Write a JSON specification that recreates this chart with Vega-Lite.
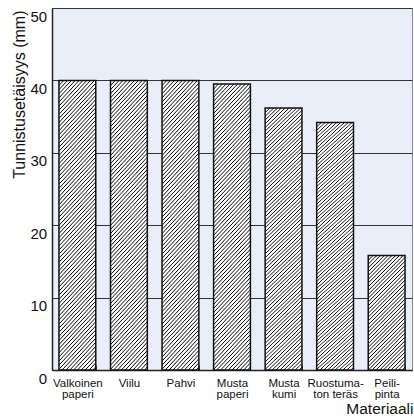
{
  "$schema": "https://vega.github.io/schema/vega-lite/v6.json",
  "width": 360,
  "height": 362,
  "autosize": {"type": "none"},
  "padding": {"left": 52, "top": 8, "right": 2, "bottom": 48},
  "background": "white",
  "config": {
    "font": "Liberation Sans",
    "view": {"fill": "#e9eef8", "stroke": "#8a8a8a", "strokeWidth": 1},
    "axis": {"labelColor": "#111", "titleColor": "#111", "titleFontWeight": "normal"}
  },
  "data": {
    "values": [
      {"material": "Valkoinen paperi", "distance": 40},
      {"material": "Viilu", "distance": 40},
      {"material": "Pahvi", "distance": 40},
      {"material": "Musta paperi", "distance": 39.5},
      {"material": "Musta kumi", "distance": 36.2},
      {"material": "Ruostumaton teräs", "distance": 34.2},
      {"material": "Peilipinta", "distance": 15.8}
    ]
  },
  "mark": {"type": "bar", "stroke": "#111", "strokeWidth": 1.5},
  "encoding": {
    "x": {
      "field": "material", "type": "nominal", "sort": null,
      "scale": {"paddingInner": 0.286, "paddingOuter": 0.135},
      "axis": {
        "title": "Materiaali", "titleFontSize": 15.5, "titleFontWeight": "normal",
        "titleX": 361, "titleY": 43, "titleAlign": "right", "titleBaseline": "alphabetic",
        "labelAngle": 0, "labelFontSize": 11.5, "labelLineHeight": 11, "labelPadding": 12.5, "labelBaseline": "top",
        "labelExpr": "!isValid(datum.value) ? '' : datum.value == 'Ruostumaton teräs' ? ['Ruostuma-', 'ton teräs'] : datum.value == 'Peilipinta' ? ['Peili-', 'pinta'] : split(datum.value, ' ')",
        "tickBand": "extent", "tickSize": -5, "tickColor": "#444", "tickWidth": 1,
        "domainColor": "#222", "domainWidth": 1.5, "grid": false
      }
    },
    "y": {
      "field": "distance", "type": "quantitative",
      "scale": {"domain": [0, 50], "nice": false},
      "axis": {
        "title": "Tunnistusetäisyys (mm)", "titleFontSize": 16, "titleFontWeight": "normal",
        "titleX": -28, "titleY": 2, "titleAlign": "right", "titleBaseline": "alphabetic", "titleAngle": -90,
        "values": [0, 10, 20, 30, 40, 50], "ticks": false, "tickSize": 0,
        "labelFontSize": 15, "labelBaseline": "top", "labelPadding": 5.3, "labelFlush": false, "labelOffset": 1,
        "grid": true, "gridColor": "#333", "gridWidth": 1, "gridOpacity": 1,
        "domainColor": "#222", "domainWidth": 1.5
      }
    },
    "fill": {
      "condition": {
        "test": "datum.distance < 25",
        "value": {"gradient": "linear", "x1": 0, "y1": 0, "x2": 0.3875, "y2": 1.1981, "stops": [
          {"offset":0,"color":"#fff"},{"offset":0.0064,"color":"#000"},{"offset":0.0128,"color":"#fff"},
          {"offset":0.025,"color":"#fff"},{"offset":0.0314,"color":"#000"},{"offset":0.0378,"color":"#fff"},
          {"offset":0.05,"color":"#fff"},{"offset":0.0564,"color":"#000"},{"offset":0.0628,"color":"#fff"},
          {"offset":0.075,"color":"#fff"},{"offset":0.0814,"color":"#000"},{"offset":0.0878,"color":"#fff"},
          {"offset":0.1,"color":"#fff"},{"offset":0.1064,"color":"#000"},{"offset":0.1128,"color":"#fff"},
          {"offset":0.125,"color":"#fff"},{"offset":0.1314,"color":"#000"},{"offset":0.1378,"color":"#fff"},
          {"offset":0.15,"color":"#fff"},{"offset":0.1564,"color":"#000"},{"offset":0.1628,"color":"#fff"},
          {"offset":0.175,"color":"#fff"},{"offset":0.1814,"color":"#000"},{"offset":0.1878,"color":"#fff"},
          {"offset":0.2,"color":"#fff"},{"offset":0.2064,"color":"#000"},{"offset":0.2128,"color":"#fff"},
          {"offset":0.225,"color":"#fff"},{"offset":0.2314,"color":"#000"},{"offset":0.2378,"color":"#fff"},
          {"offset":0.25,"color":"#fff"},{"offset":0.2564,"color":"#000"},{"offset":0.2628,"color":"#fff"},
          {"offset":0.275,"color":"#fff"},{"offset":0.2814,"color":"#000"},{"offset":0.2878,"color":"#fff"},
          {"offset":0.3,"color":"#fff"},{"offset":0.3064,"color":"#000"},{"offset":0.3128,"color":"#fff"},
          {"offset":0.325,"color":"#fff"},{"offset":0.3314,"color":"#000"},{"offset":0.3378,"color":"#fff"},
          {"offset":0.35,"color":"#fff"},{"offset":0.3564,"color":"#000"},{"offset":0.3628,"color":"#fff"},
          {"offset":0.375,"color":"#fff"},{"offset":0.3814,"color":"#000"},{"offset":0.3878,"color":"#fff"},
          {"offset":0.4,"color":"#fff"},{"offset":0.4064,"color":"#000"},{"offset":0.4128,"color":"#fff"},
          {"offset":0.425,"color":"#fff"},{"offset":0.4314,"color":"#000"},{"offset":0.4378,"color":"#fff"},
          {"offset":0.45,"color":"#fff"},{"offset":0.4564,"color":"#000"},{"offset":0.4628,"color":"#fff"},
          {"offset":0.475,"color":"#fff"},{"offset":0.4814,"color":"#000"},{"offset":0.4878,"color":"#fff"},
          {"offset":0.5,"color":"#fff"},{"offset":0.5064,"color":"#000"},{"offset":0.5128,"color":"#fff"},
          {"offset":0.525,"color":"#fff"},{"offset":0.5314,"color":"#000"},{"offset":0.5378,"color":"#fff"},
          {"offset":0.55,"color":"#fff"},{"offset":0.5564,"color":"#000"},{"offset":0.5628,"color":"#fff"},
          {"offset":0.575,"color":"#fff"},{"offset":0.5814,"color":"#000"},{"offset":0.5878,"color":"#fff"},
          {"offset":0.6,"color":"#fff"},{"offset":0.6064,"color":"#000"},{"offset":0.6128,"color":"#fff"},
          {"offset":0.625,"color":"#fff"},{"offset":0.6314,"color":"#000"},{"offset":0.6378,"color":"#fff"},
          {"offset":0.65,"color":"#fff"},{"offset":0.6564,"color":"#000"},{"offset":0.6628,"color":"#fff"},
          {"offset":0.675,"color":"#fff"},{"offset":0.6814,"color":"#000"},{"offset":0.6878,"color":"#fff"},
          {"offset":0.7,"color":"#fff"},{"offset":0.7064,"color":"#000"},{"offset":0.7128,"color":"#fff"},
          {"offset":0.725,"color":"#fff"},{"offset":0.7314,"color":"#000"},{"offset":0.7378,"color":"#fff"},
          {"offset":0.75,"color":"#fff"},{"offset":0.7564,"color":"#000"},{"offset":0.7628,"color":"#fff"},
          {"offset":0.775,"color":"#fff"},{"offset":0.7814,"color":"#000"},{"offset":0.7878,"color":"#fff"},
          {"offset":0.8,"color":"#fff"},{"offset":0.8064,"color":"#000"},{"offset":0.8128,"color":"#fff"},
          {"offset":0.825,"color":"#fff"},{"offset":0.8314,"color":"#000"},{"offset":0.8378,"color":"#fff"},
          {"offset":0.85,"color":"#fff"},{"offset":0.8564,"color":"#000"},{"offset":0.8628,"color":"#fff"},
          {"offset":0.875,"color":"#fff"},{"offset":0.8814,"color":"#000"},{"offset":0.8878,"color":"#fff"},
          {"offset":0.9,"color":"#fff"},{"offset":0.9064,"color":"#000"},{"offset":0.9128,"color":"#fff"},
          {"offset":0.925,"color":"#fff"},{"offset":0.9314,"color":"#000"},{"offset":0.9378,"color":"#fff"},
          {"offset":0.95,"color":"#fff"},{"offset":0.9564,"color":"#000"},{"offset":0.9628,"color":"#fff"},
          {"offset":0.975,"color":"#fff"},{"offset":0.9814,"color":"#000"},{"offset":0.9878,"color":"#fff"}
        ]}
      },
      "value": {"gradient": "linear", "x1": 0, "y1": 0, "x2": 0.1517, "y2": 1.1154, "stops": [
        {"offset":0,"color":"#fff"},{"offset":0.0031,"color":"#000"},{"offset":0.0062,"color":"#fff"},
        {"offset":0.0125,"color":"#fff"},{"offset":0.0156,"color":"#000"},{"offset":0.0187,"color":"#fff"},
        {"offset":0.025,"color":"#fff"},{"offset":0.0281,"color":"#000"},{"offset":0.0312,"color":"#fff"},
        {"offset":0.0375,"color":"#fff"},{"offset":0.0406,"color":"#000"},{"offset":0.0437,"color":"#fff"},
        {"offset":0.05,"color":"#fff"},{"offset":0.0531,"color":"#000"},{"offset":0.0562,"color":"#fff"},
        {"offset":0.0625,"color":"#fff"},{"offset":0.0656,"color":"#000"},{"offset":0.0687,"color":"#fff"},
        {"offset":0.075,"color":"#fff"},{"offset":0.0781,"color":"#000"},{"offset":0.0812,"color":"#fff"},
        {"offset":0.0875,"color":"#fff"},{"offset":0.0906,"color":"#000"},{"offset":0.0937,"color":"#fff"},
        {"offset":0.1,"color":"#fff"},{"offset":0.1031,"color":"#000"},{"offset":0.1062,"color":"#fff"},
        {"offset":0.1125,"color":"#fff"},{"offset":0.1156,"color":"#000"},{"offset":0.1187,"color":"#fff"},
        {"offset":0.125,"color":"#fff"},{"offset":0.1281,"color":"#000"},{"offset":0.1312,"color":"#fff"},
        {"offset":0.1375,"color":"#fff"},{"offset":0.1406,"color":"#000"},{"offset":0.1437,"color":"#fff"},
        {"offset":0.15,"color":"#fff"},{"offset":0.1531,"color":"#000"},{"offset":0.1562,"color":"#fff"},
        {"offset":0.1625,"color":"#fff"},{"offset":0.1656,"color":"#000"},{"offset":0.1687,"color":"#fff"},
        {"offset":0.175,"color":"#fff"},{"offset":0.1781,"color":"#000"},{"offset":0.1812,"color":"#fff"},
        {"offset":0.1875,"color":"#fff"},{"offset":0.1906,"color":"#000"},{"offset":0.1937,"color":"#fff"},
        {"offset":0.2,"color":"#fff"},{"offset":0.2031,"color":"#000"},{"offset":0.2062,"color":"#fff"},
        {"offset":0.2125,"color":"#fff"},{"offset":0.2156,"color":"#000"},{"offset":0.2187,"color":"#fff"},
        {"offset":0.225,"color":"#fff"},{"offset":0.2281,"color":"#000"},{"offset":0.2312,"color":"#fff"},
        {"offset":0.2375,"color":"#fff"},{"offset":0.2406,"color":"#000"},{"offset":0.2437,"color":"#fff"},
        {"offset":0.25,"color":"#fff"},{"offset":0.2531,"color":"#000"},{"offset":0.2562,"color":"#fff"},
        {"offset":0.2625,"color":"#fff"},{"offset":0.2656,"color":"#000"},{"offset":0.2687,"color":"#fff"},
        {"offset":0.275,"color":"#fff"},{"offset":0.2781,"color":"#000"},{"offset":0.2812,"color":"#fff"},
        {"offset":0.2875,"color":"#fff"},{"offset":0.2906,"color":"#000"},{"offset":0.2937,"color":"#fff"},
        {"offset":0.3,"color":"#fff"},{"offset":0.3031,"color":"#000"},{"offset":0.3062,"color":"#fff"},
        {"offset":0.3125,"color":"#fff"},{"offset":0.3156,"color":"#000"},{"offset":0.3187,"color":"#fff"},
        {"offset":0.325,"color":"#fff"},{"offset":0.3281,"color":"#000"},{"offset":0.3312,"color":"#fff"},
        {"offset":0.3375,"color":"#fff"},{"offset":0.3406,"color":"#000"},{"offset":0.3437,"color":"#fff"},
        {"offset":0.35,"color":"#fff"},{"offset":0.3531,"color":"#000"},{"offset":0.3562,"color":"#fff"},
        {"offset":0.3625,"color":"#fff"},{"offset":0.3656,"color":"#000"},{"offset":0.3687,"color":"#fff"},
        {"offset":0.375,"color":"#fff"},{"offset":0.3781,"color":"#000"},{"offset":0.3812,"color":"#fff"},
        {"offset":0.3875,"color":"#fff"},{"offset":0.3906,"color":"#000"},{"offset":0.3937,"color":"#fff"},
        {"offset":0.4,"color":"#fff"},{"offset":0.4031,"color":"#000"},{"offset":0.4062,"color":"#fff"},
        {"offset":0.4125,"color":"#fff"},{"offset":0.4156,"color":"#000"},{"offset":0.4187,"color":"#fff"},
        {"offset":0.425,"color":"#fff"},{"offset":0.4281,"color":"#000"},{"offset":0.4312,"color":"#fff"},
        {"offset":0.4375,"color":"#fff"},{"offset":0.4406,"color":"#000"},{"offset":0.4437,"color":"#fff"},
        {"offset":0.45,"color":"#fff"},{"offset":0.4531,"color":"#000"},{"offset":0.4562,"color":"#fff"},
        {"offset":0.4625,"color":"#fff"},{"offset":0.4656,"color":"#000"},{"offset":0.4687,"color":"#fff"},
        {"offset":0.475,"color":"#fff"},{"offset":0.4781,"color":"#000"},{"offset":0.4812,"color":"#fff"},
        {"offset":0.4875,"color":"#fff"},{"offset":0.4906,"color":"#000"},{"offset":0.4937,"color":"#fff"},
        {"offset":0.5,"color":"#fff"},{"offset":0.5031,"color":"#000"},{"offset":0.5062,"color":"#fff"},
        {"offset":0.5125,"color":"#fff"},{"offset":0.5156,"color":"#000"},{"offset":0.5187,"color":"#fff"},
        {"offset":0.525,"color":"#fff"},{"offset":0.5281,"color":"#000"},{"offset":0.5312,"color":"#fff"},
        {"offset":0.5375,"color":"#fff"},{"offset":0.5406,"color":"#000"},{"offset":0.5437,"color":"#fff"},
        {"offset":0.55,"color":"#fff"},{"offset":0.5531,"color":"#000"},{"offset":0.5562,"color":"#fff"},
        {"offset":0.5625,"color":"#fff"},{"offset":0.5656,"color":"#000"},{"offset":0.5687,"color":"#fff"},
        {"offset":0.575,"color":"#fff"},{"offset":0.5781,"color":"#000"},{"offset":0.5812,"color":"#fff"},
        {"offset":0.5875,"color":"#fff"},{"offset":0.5906,"color":"#000"},{"offset":0.5937,"color":"#fff"},
        {"offset":0.6,"color":"#fff"},{"offset":0.6031,"color":"#000"},{"offset":0.6062,"color":"#fff"},
        {"offset":0.6125,"color":"#fff"},{"offset":0.6156,"color":"#000"},{"offset":0.6187,"color":"#fff"},
        {"offset":0.625,"color":"#fff"},{"offset":0.6281,"color":"#000"},{"offset":0.6312,"color":"#fff"},
        {"offset":0.6375,"color":"#fff"},{"offset":0.6406,"color":"#000"},{"offset":0.6437,"color":"#fff"},
        {"offset":0.65,"color":"#fff"},{"offset":0.6531,"color":"#000"},{"offset":0.6562,"color":"#fff"},
        {"offset":0.6625,"color":"#fff"},{"offset":0.6656,"color":"#000"},{"offset":0.6687,"color":"#fff"},
        {"offset":0.675,"color":"#fff"},{"offset":0.6781,"color":"#000"},{"offset":0.6812,"color":"#fff"},
        {"offset":0.6875,"color":"#fff"},{"offset":0.6906,"color":"#000"},{"offset":0.6937,"color":"#fff"},
        {"offset":0.7,"color":"#fff"},{"offset":0.7031,"color":"#000"},{"offset":0.7062,"color":"#fff"},
        {"offset":0.7125,"color":"#fff"},{"offset":0.7156,"color":"#000"},{"offset":0.7187,"color":"#fff"},
        {"offset":0.725,"color":"#fff"},{"offset":0.7281,"color":"#000"},{"offset":0.7312,"color":"#fff"},
        {"offset":0.7375,"color":"#fff"},{"offset":0.7406,"color":"#000"},{"offset":0.7437,"color":"#fff"},
        {"offset":0.75,"color":"#fff"},{"offset":0.7531,"color":"#000"},{"offset":0.7562,"color":"#fff"},
        {"offset":0.7625,"color":"#fff"},{"offset":0.7656,"color":"#000"},{"offset":0.7687,"color":"#fff"},
        {"offset":0.775,"color":"#fff"},{"offset":0.7781,"color":"#000"},{"offset":0.7812,"color":"#fff"},
        {"offset":0.7875,"color":"#fff"},{"offset":0.7906,"color":"#000"},{"offset":0.7937,"color":"#fff"},
        {"offset":0.8,"color":"#fff"},{"offset":0.8031,"color":"#000"},{"offset":0.8062,"color":"#fff"},
        {"offset":0.8125,"color":"#fff"},{"offset":0.8156,"color":"#000"},{"offset":0.8187,"color":"#fff"},
        {"offset":0.825,"color":"#fff"},{"offset":0.8281,"color":"#000"},{"offset":0.8312,"color":"#fff"},
        {"offset":0.8375,"color":"#fff"},{"offset":0.8406,"color":"#000"},{"offset":0.8437,"color":"#fff"},
        {"offset":0.85,"color":"#fff"},{"offset":0.8531,"color":"#000"},{"offset":0.8562,"color":"#fff"},
        {"offset":0.8625,"color":"#fff"},{"offset":0.8656,"color":"#000"},{"offset":0.8687,"color":"#fff"},
        {"offset":0.875,"color":"#fff"},{"offset":0.8781,"color":"#000"},{"offset":0.8812,"color":"#fff"},
        {"offset":0.8875,"color":"#fff"},{"offset":0.8906,"color":"#000"},{"offset":0.8937,"color":"#fff"},
        {"offset":0.9,"color":"#fff"},{"offset":0.9031,"color":"#000"},{"offset":0.9062,"color":"#fff"},
        {"offset":0.9125,"color":"#fff"},{"offset":0.9156,"color":"#000"},{"offset":0.9187,"color":"#fff"},
        {"offset":0.925,"color":"#fff"},{"offset":0.9281,"color":"#000"},{"offset":0.9312,"color":"#fff"},
        {"offset":0.9375,"color":"#fff"},{"offset":0.9406,"color":"#000"},{"offset":0.9437,"color":"#fff"},
        {"offset":0.95,"color":"#fff"},{"offset":0.9531,"color":"#000"},{"offset":0.9562,"color":"#fff"},
        {"offset":0.9625,"color":"#fff"},{"offset":0.9656,"color":"#000"},{"offset":0.9687,"color":"#fff"},
        {"offset":0.975,"color":"#fff"},{"offset":0.9781,"color":"#000"},{"offset":0.9812,"color":"#fff"},
        {"offset":0.9875,"color":"#fff"},{"offset":0.9906,"color":"#000"},{"offset":0.9937,"color":"#fff"}
      ]}
    }
  }
}
